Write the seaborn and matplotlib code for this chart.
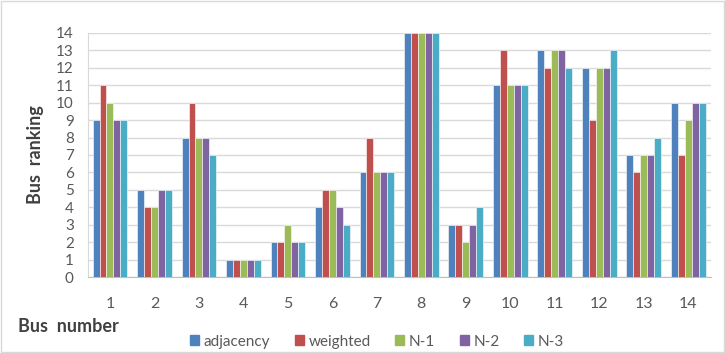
import matplotlib.pyplot as plt
import seaborn as sns
import pandas as pd

# bus ranking per method
buses = [str(i) for i in range(1, 15)]
adjacency = [9, 5, 8, 1, 2, 4, 6, 14, 3, 11, 13, 12, 7, 10]
weighted = [11, 4, 10, 1, 2, 5, 8, 14, 3, 13, 12, 9, 6, 7]
n1 = [10, 4, 8, 1, 3, 5, 6, 14, 2, 11, 13, 12, 7, 9]
n2 = [9, 5, 8, 1, 2, 4, 6, 14, 3, 11, 13, 12, 7, 10]
n3 = [9, 5, 7, 1, 2, 3, 6, 14, 4, 11, 12, 13, 8, 10]

series = {"adjacency": adjacency, "weighted": weighted, "N-1": n1, "N-2": n2, "N-3": n3}
colors = ["#4F81BD", "#C0504D", "#9BBB59", "#8064A2", "#4BACC6"]

rows = []
for name, vals in series.items():
    for b, v in zip(buses, vals):
        rows.append({"bus": b, "method": name, "rank": v})
df = pd.DataFrame(rows)

sns.set_style("white")
plt.rcParams["font.family"] = ["Lato", "DejaVu Sans"]

fig = plt.figure(figsize=(7.25, 3.53), dpi=100)
ax = fig.add_axes([0.121, 0.215, 0.859, 0.692])

sns.barplot(data=df, x="bus", y="rank", hue="method", hue_order=list(series),
            order=buses, palette=colors, width=0.78, gap=0, saturation=1,
            edgecolor="white", linewidth=0.4,
            ax=ax, legend=False, zorder=3)

ax.set_ylim(0, 14)
ax.set_yticks(range(0, 15))
ax.set_xlim(-0.5, len(buses) - 0.5)
ax.yaxis.grid(True, color="#D9D9D9", linewidth=1, zorder=0)
ax.set_axisbelow(True)
for s in ["top", "right"]:
    ax.spines[s].set_visible(False)
ax.spines["left"].set_color("#D9D9D9")
ax.spines["bottom"].set_color("#BFBFBF")
ax.tick_params(axis="both", length=0, labelsize=11, labelcolor="#595959")
ax.tick_params(axis="x", pad=14, labelsize=11.5)
ax.tick_params(axis="y", pad=10)
ax.set_xlabel("")
ax.set_ylabel("Bus  ranking", fontsize=13, fontweight="bold", color="#404040", labelpad=9)

fig.text(0.025, 0.06, "Bus  number", fontsize=13, fontweight="bold", color="#404040")

handles = [plt.Rectangle((0, 0), 1, 1, color=c) for c in colors]
fig.legend(handles, list(series), loc="center", bbox_to_anchor=(0.52, 0.032), ncol=5,
           frameon=False, fontsize=11, handlelength=0.6, handleheight=0.6,
           handletextpad=0.3, columnspacing=1.6, labelcolor="#595959")

fig.patches.append(plt.Rectangle((0.002, 0.003), 0.996, 0.994, transform=fig.transFigure,
                                 fill=False, edgecolor="#D9D9D9", linewidth=1))

fig.savefig("out.png", dpi=100)
